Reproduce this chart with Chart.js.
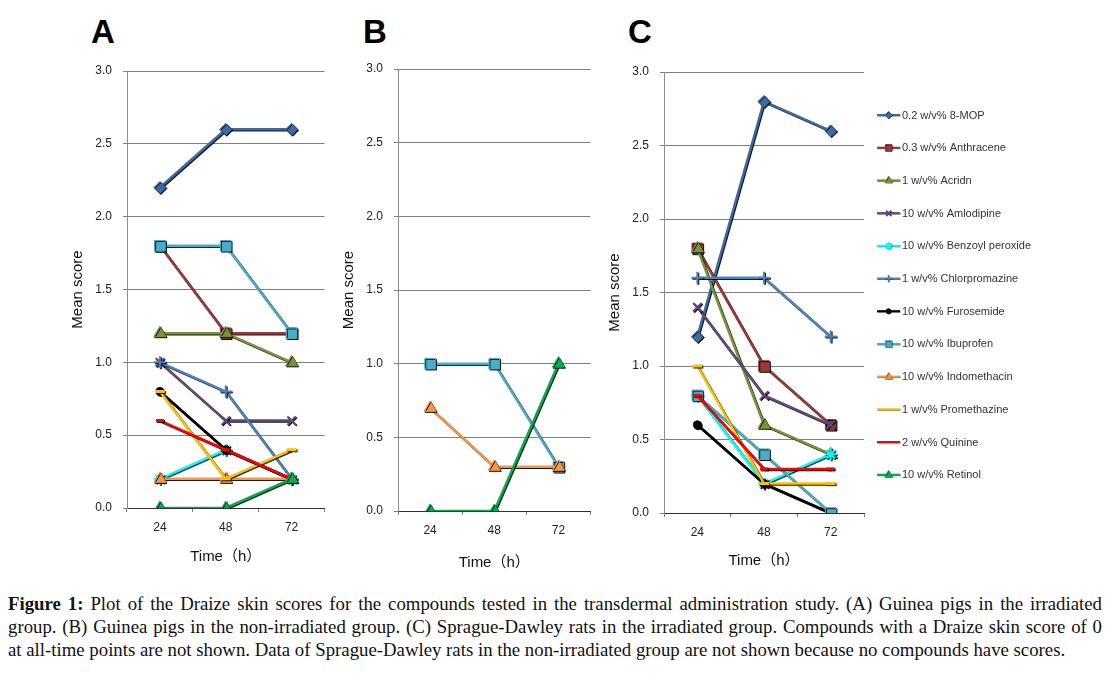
<!DOCTYPE html>
<html>
<head>
<meta charset="utf-8">
<script src="https://cdn.jsdelivr.net/npm/chart.js@4.4.0/dist/chart.umd.min.js"></script>
<style>
  body { margin: 0; background: #fff; width: 1109px; height: 676px; overflow: hidden; position: relative; }
  canvas { position: absolute; }
  .panel { position: absolute; font: bold 33px "Liberation Sans", Arial, sans-serif; line-height: 1; }
  #caption { position: absolute; left: 8px; top: 592px; width: 1094px;
    font: 18.8px "Liberation Serif", "Times New Roman", serif; line-height: 23px; color: #111; }
  #caption div.j { text-align: justify; text-align-last: justify; }
</style>
</head>
<body>
<div class="panel" style="left:91px;top:15px">A</div>
<div class="panel" style="left:363px;top:15px">B</div>
<div class="panel" style="left:628px;top:15px">C</div>

<canvas id="chartA" width="273" height="515" style="left:60px;top:60px"></canvas>
<canvas id="chartB" width="268" height="520" style="left:331px;top:58px"></canvas>
<canvas id="chartC" width="512" height="519" style="left:597px;top:61px"></canvas>

<div id="caption">
  <div class="j"><b>Figure 1:</b> Plot of the Draize skin scores for the compounds tested in the transdermal administration study. (A) Guinea pigs in the irradiated</div>
  <div class="j">group. (B) Guinea pigs in the non-irradiated group. (C) Sprague-Dawley rats in the irradiated group. Compounds with a Draize skin score of 0</div>
  <div>at all-time points are not shown. Data of Sprague-Dawley rats in the non-irradiated group are not shown because no compounds have scores.</div>
</div>

<script>
const timeLabels = ['24', '48', '72'];

const compounds = [
	'0.2 w/v% 8-MOP',
	'0.3 w/v% Anthracene',
	'1 w/v% Acridn',
	'10 w/v% Amlodipine',
	'10 w/v% Benzoyl peroxide',
	'1 w/v% Chlorpromazine',
	'10 w/v% Furosemide',
	'10 w/v% Ibuprofen',
	'10 w/v% Indomethacin',
	'1 w/v% Promethazine',
	'2 w/v% Quinine',
	'10 w/v% Retinol',
];

// mean scores at 24, 48, 72 h, same order as compounds (null = not shown)
const guineaIrradiated = [
	[2.2, 2.6, 2.6],
	[1.8, 1.2, 1.2],
	[1.2, 1.2, 1.0],
	[1.0, 0.6, 0.6],
	[0.2, 0.4, 0.2],
	[1.0, 0.8, 0.2],
	[0.8, 0.4, 0.2],
	[1.8, 1.8, 1.2],
	[0.2, 0.2, 0.2],
	[0.8, 0.2, 0.4],
	[0.6, 0.4, 0.2],
	[0.0, 0.0, 0.2],
];

const guineaNonIrradiated = [
	null, null, null, null, null, null, null,
	[1.0, 1.0, 0.3],
	[0.7, 0.3, 0.3],
	null, null,
	[0.0, 0.0, 1.0],
];

const ratIrradiated = [
	[1.2, 2.8, 2.6],
	[1.8, 1.0, 0.6],
	[1.8, 0.6, 0.4],
	[1.4, 0.8, 0.6],
	[0.8, 0.2, 0.4],
	[1.6, 1.6, 1.2],
	[0.6, 0.2, 0.0],
	[0.8, 0.4, 0.0],
	null,
	[1.0, 0.2, 0.2],
	[0.8, 0.3, 0.3],
	null,
];

const seriesStyle = [
	{ color: '#3D6AA3', point: 'rectRot', r: 6, bw: 1 },
	{ color: '#983A37', point: 'rect', r: 7.5, bw: 1 },
	{ color: '#77933C', point: 'triangle', r: 7, bw: 1 },
	{ color: '#604A7B', point: 'crossRot', r: 6, bw: 2 },
	{ color: '#00FFFF', point: 'star', r: 6, bw: 2 },
	{ color: '#4F81BD', point: 'cross', r: 6, bw: 2 },
	{ color: '#000000', point: 'circle', r: 4, bw: 1 },
	{ color: '#4BACC6', point: 'rect', r: 7.5, bw: 1 },
	{ color: '#F79646', point: 'triangle', r: 7, bw: 1 },
	{ color: '#FFC000', point: 'line', r: 5, bw: 3 },
	{ color: '#FF0000', point: 'line', r: 4, bw: 3 },
	{ color: '#00B050', point: 'triangle', r: 7, bw: 1 },
];

const font = '"Liberation Sans", Arial, sans-serif';

// excel style drop shadow under the series
const shadowPlugin = {
	id: 'excelShadow',
	beforeDatasetsDraw(chart) {
		const c = chart.ctx;
		c.save();
		c.shadowColor = 'rgba(0,0,0,0.9)';
		c.shadowOffsetX = 1;
		c.shadowOffsetY = 1;
		c.shadowBlur = 0;
	},
	afterDatasetsDraw(chart) {
		chart.ctx.restore();
	},
};

const legendPlugin = {
	id: 'lineLegend',
	afterDraw(chart) {
		const c = chart.ctx;
		const x0 = 280;
		const y0 = 54;
		const step = 32.7;
		c.save();
		c.font = '11px ' + font;
		c.textBaseline = 'middle';
		c.textAlign = 'left';
		compounds.forEach((name, i) => {
			const s = seriesStyle[i];
			const y = y0 + i * step;
			c.save();
			c.shadowColor = 'rgba(0,0,0,0.6)';
			c.shadowOffsetX = 0.5;
			c.shadowOffsetY = 0.5;
			c.strokeStyle = s.color;
			c.fillStyle = s.color;
			c.lineWidth = 2;
			c.beginPath();
			c.moveTo(x0, y);
			c.lineTo(x0 + 23, y);
			c.stroke();
			if (s.point !== 'line' && Chart.helpers && Chart.helpers.drawPoint) {
				c.lineWidth = s.bw > 1 ? 1.5 : 1;
				Chart.helpers.drawPoint(c, { pointStyle: s.point, radius: s.r * 0.6, rotation: 0, borderWidth: c.lineWidth }, x0 + 11.5, y);
			}
			c.restore();
			c.fillStyle = '#333';
			c.fillText(name, x0 + 25, y + 0.5);
		});
		c.restore();
	},
};

function makeDatasets(values) {
	const sets = [];
	values.forEach((v, i) => {
		if (!v) return;
		const s = seriesStyle[i];
		sets.push({
			label: compounds[i],
			data: v,
			borderColor: s.color,
			backgroundColor: s.color,
			borderWidth: 2.5,
			tension: 0,
			pointStyle: s.point,
			pointRadius: s.r,
			pointHoverRadius: s.r,
			pointBorderWidth: s.bw,
			pointBackgroundColor: s.color,
			pointBorderColor: s.color,
			order: compounds.length - i,
		});
	});
	return sets;
}

function makeChart(id, values, titlePad, padRight, extraPlugins) {
	return new Chart(document.getElementById(id), {
		type: 'line',
		data: { labels: timeLabels, datasets: makeDatasets(values) },
		options: {
			responsive: false,
			animation: false,
			devicePixelRatio: 1,
			layout: { padding: { top: 11, right: padRight, left: 0, bottom: 0 } },
			plugins: { legend: { display: false }, tooltip: { enabled: false } },
			scales: {
				x: {
					type: 'category',
					offset: true,
					afterFit: (scale) => { scale.height = 67; },
					grid: { offset: true, drawOnChartArea: false, drawTicks: true, tickLength: 4, color: '#7f7f7f' },
					border: { display: true, color: '#303030', width: 1 },
					ticks: { padding: 8, color: '#222', font: { family: font, size: 12 } },
					title: { display: true, text: 'Time（h）', color: '#111', padding: { top: 4, bottom: titlePad },
						font: { family: font + ', "Noto Sans CJK JP"', size: 15 } },
				},
				y: {
					min: 0,
					max: 3,
					afterFit: (scale) => {
						scale.width = 67;
						scale.paddingTop = 0;
						scale.paddingBottom = 0;
					},
					grid: { color: '#7f7f7f', drawTicks: true, tickLength: 4, lineWidth: 1 },
					border: { display: true, color: '#8c8c8c', width: 1 },
					ticks: { stepSize: 0.5, padding: 11, color: '#222', font: { family: font, size: 12 },
						callback: (v) => Number(v).toFixed(1) },
					title: { display: true, text: 'Mean score', color: '#111', padding: { top: 9, bottom: 0 },
						font: { family: font, size: 15 } },
				},
			},
		},
		plugins: [shadowPlugin].concat(extraPlugins || []),
	});
}

makeChart('chartA', guineaIrradiated, 9, 3);
makeChart('chartB', guineaNonIrradiated, 6, 3);
makeChart('chartC', ratIrradiated, 10, 245, [legendPlugin]);
</script>
</body>
</html>
